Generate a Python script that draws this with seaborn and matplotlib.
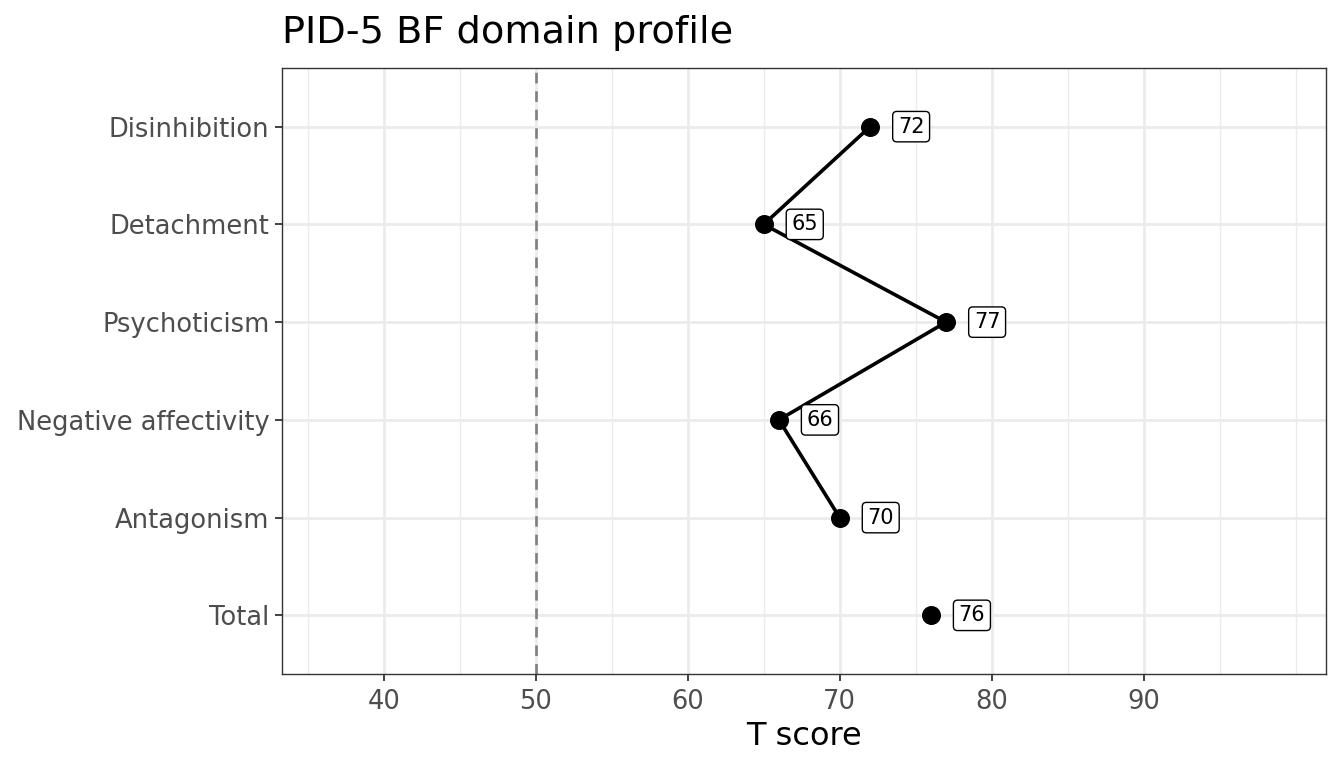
import matplotlib.pyplot as plt
import numpy as np
import pandas as pd
import seaborn as sns

domains = ["Disinhibition", "Detachment", "Psychoticism", "Negative affectivity", "Antagonism", "Total"]
scores = [72, 65, 77, 66, 70, 76]
x_major = [40, 50, 60, 70, 80, 90]
x_minor = [35, 45, 55, 65, 75, 85, 95, 100]

df = pd.DataFrame({"domain": domains, "score": scores})
df["pos"] = np.arange(len(df))
facets = df[df["domain"] != "Total"]

sns.set_style("white")
plt.rcParams["font.family"] = ["DejaVu Sans"]

fig, ax = plt.subplots(figsize=(13.44, 7.68), dpi=100)
fig.subplots_adjust(left=282/1344, right=1326/1344, top=1-68/768, bottom=1-674/768)

for v in x_minor:
    ax.axvline(v, color="#ebebeb", lw=1.0, zorder=0)
for v in x_major:
    ax.axvline(v, color="#ebebeb", lw=2.0, zorder=0)
for p in df["pos"]:
    ax.axhline(p, color="#ebebeb", lw=2.0, zorder=0)

ax.axvline(50, color="#7f7f7f", lw=1.9, ls=(0, (4, 3)), zorder=1)

sns.lineplot(data=facets, x="score", y="pos", sort=False, estimator=None,
             color="black", lw=2.6, ax=ax, zorder=2)
sns.scatterplot(data=df, x="score", y="pos", color="black", s=160,
                edgecolor="black", ax=ax, zorder=3)

for _, r in df.iterrows():
    ax.text(r["score"] + 2.7, r["pos"], str(r["score"]), ha="center", va="center",
            fontsize=15, color="black", zorder=4,
            bbox=dict(boxstyle="round,pad=0.25,rounding_size=0.2", fc="white", ec="black", lw=1))

ax.set_xlim(33.3, 102)
ax.set_ylim(len(df) - 0.4, -0.6)
ax.set_xticks(x_major)
ax.set_yticks(df["pos"])
ax.set_yticklabels(domains)
ax.tick_params(axis="both", labelsize=18.5, labelcolor="#4d4d4d", color="#333333",
               length=5, width=1.3, left=True, bottom=True, pad=4)
ax.tick_params(axis="x", pad=6)
ax.set_xlabel("T score", fontsize=23, color="black", labelpad=4)
ax.set_ylabel("")
ax.set_title("PID-5 BF domain profile", fontsize=27.5, color="black", loc="left", pad=18)
for s in ax.spines.values():
    s.set_color("#333333")
    s.set_linewidth(1.0)

fig.savefig("out.png", dpi=100)
